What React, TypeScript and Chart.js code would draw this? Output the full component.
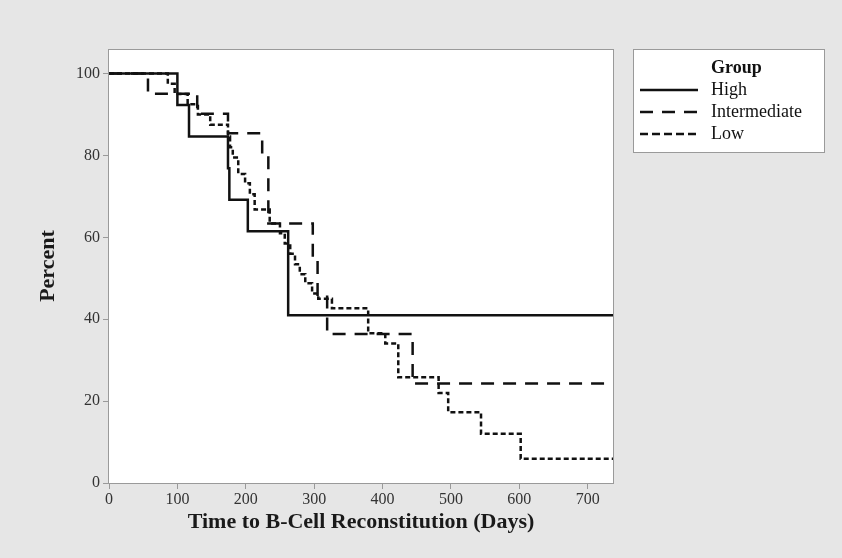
import React, { useEffect, useRef } from 'react';
import { Chart, registerables } from 'chart.js';

Chart.register(...registerables);

const X_MAX = 737;
const Y_MAX = 106;
const xTicks = [0, 100, 200, 300, 400, 500, 600, 700];
const yTicks = [0, 20, 40, 60, 80, 100];

const groupNames = ['High', 'Intermediate', 'Low'];

const highDays = [0, 100, 117, 174, 176, 203, 262];
const highPct = [100, 92.3, 84.6, 76.9, 69.2, 61.5, 41.0];

const interDays = [0, 57, 129, 174, 224, 233, 298, 305, 319, 444];
const interPct = [100, 95.1, 90.2, 85.4, 80.5, 63.4, 54.6, 45.5, 36.4, 24.3];

const lowDays = [0, 86, 96, 115, 130, 148, 174, 177, 181, 189, 199, 206, 213, 235, 250, 257, 265, 272, 279, 287, 297, 306, 326, 379, 404, 423, 482, 496, 544, 602];
const lowPct = [100, 97.5, 95, 92.5, 90, 87.5, 84.6, 82, 79.5, 75.5, 73.2, 70.5, 66.8, 63.4, 61, 58.5, 56, 53.4, 51, 48.8, 46.3, 45, 42.7, 36.6, 34.1, 25.8, 22, 17.3, 12, 5.9];

const dashPlot: number[][] = [[], [13, 9], [5, 3]];
const dashLegend: number[][] = [[], [13, 9], [8, 4]];

const SERIF = '"Liberation Serif", "Times New Roman", serif';

function toPoints(days: number[], pct: number[]) {
  const pts = days.map((d, i) => ({ x: d, y: pct[i] }));
  pts.push({ x: X_MAX, y: pct[pct.length - 1] });
  return pts;
}

const framePlugin = {
  id: 'frame',
  beforeDraw(chart: any) {
    const { ctx, chartArea: a } = chart;
    ctx.save();
    ctx.fillStyle = '#e6e6e6';
    ctx.fillRect(0, 0, chart.width, chart.height);
    ctx.fillStyle = '#ffffff';
    ctx.fillRect(a.left, a.top, a.right - a.left, a.bottom - a.top);
    ctx.restore();
  },
  afterDraw(chart: any) {
    const { ctx, chartArea: a } = chart;
    ctx.save();
    ctx.strokeStyle = '#9a9a9a';
    ctx.lineWidth = 1;
    ctx.strokeRect(Math.round(a.left) - 0.5, Math.round(a.top) + 0.5, Math.round(a.right - a.left) + 1, Math.round(a.bottom - a.top));
    // legend
    const lx = 633.5, ly = 49.5, lw = 191, lh = 103;
    ctx.fillStyle = '#ffffff';
    ctx.fillRect(lx, ly, lw, lh);
    ctx.strokeStyle = '#9a9a9a';
    ctx.strokeRect(lx, ly, lw, lh);
    ctx.fillStyle = '#111111';
    ctx.textBaseline = 'middle';
    ctx.textAlign = 'left';
    ctx.font = `bold 18px ${SERIF}`;
    ctx.fillText('Group', 711, 68);
    ctx.font = `18px ${SERIF}`;
    const ys = [90, 112, 134];
    groupNames.forEach((name, i) => {
      ctx.beginPath();
      ctx.setLineDash(dashLegend[i]);
      ctx.lineWidth = 2.5;
      ctx.strokeStyle = '#111111';
      ctx.moveTo(640, ys[i]);
      ctx.lineTo(698, ys[i]);
      ctx.stroke();
      ctx.setLineDash([]);
      ctx.fillText(name, 711, ys[i]);
    });
    ctx.restore();
  },
};

export default function App() {
  const ref = useRef<HTMLCanvasElement | null>(null);
  useEffect(() => {
    document.body.style.margin = '0';
    if (!ref.current) return;
    const series = [
      { days: highDays, pct: highPct },
      { days: interDays, pct: interPct },
      { days: lowDays, pct: lowPct },
    ];
    const chart = new Chart(ref.current, {
      type: 'line',
      data: {
        datasets: series.map((s, i) => ({
          label: groupNames[i],
          data: toPoints(s.days, s.pct),
          stepped: 'before' as const,
          borderColor: '#111111',
          borderWidth: 2.5,
          borderDash: dashPlot[i],
          pointRadius: 0,
          fill: false,
          tension: 0,
        })),
      },
      options: {
        responsive: false,
        animation: false,
        layout: { padding: { left: 0, top: 49, right: 229, bottom: 0 } },
        plugins: { legend: { display: false }, tooltip: { enabled: false } },
        scales: {
          x: {
            type: 'linear',
            min: 0,
            max: X_MAX,
            afterBuildTicks: (s: any) => { s.ticks = xTicks.map((v) => ({ value: v })); },
            afterFit: (s: any) => { s.height = 75; },
            grid: { display: true, drawOnChartArea: false, drawTicks: true, tickLength: 6, color: '#9a9a9a' },
            border: { display: false },
            ticks: { color: '#333333', font: { family: SERIF, size: 16 }, padding: 1, maxRotation: 0 },
            title: { display: true, text: 'Time to B-Cell Reconstitution (Days)', color: '#1a1a1a', font: { family: SERIF, size: 22, weight: 'bold' }, padding: { top: 0, bottom: 22 } },
          },
          y: {
            type: 'linear',
            min: 0,
            max: Y_MAX,
            afterBuildTicks: (s: any) => { s.ticks = yTicks.map((v) => ({ value: v })); },
            afterFit: (s: any) => { s.width = 109; },
            grid: { display: true, drawOnChartArea: false, drawTicks: true, tickLength: 6, color: '#9a9a9a' },
            border: { display: false },
            ticks: { color: '#333333', font: { family: SERIF, size: 16 }, padding: 3 },
            title: { display: true, text: 'Percent', color: '#1a1a1a', font: { family: SERIF, size: 22, weight: 'bold' }, padding: { top: 35, bottom: 0 } },
          },
        },
      },
      plugins: [framePlugin],
    });
    return () => chart.destroy();
  }, []);
  return (
    <div style={{ width: 842, height: 558 }}>
      <canvas ref={ref} width={842} height={558} style={{ display: 'block' }} />
    </div>
  );
}
